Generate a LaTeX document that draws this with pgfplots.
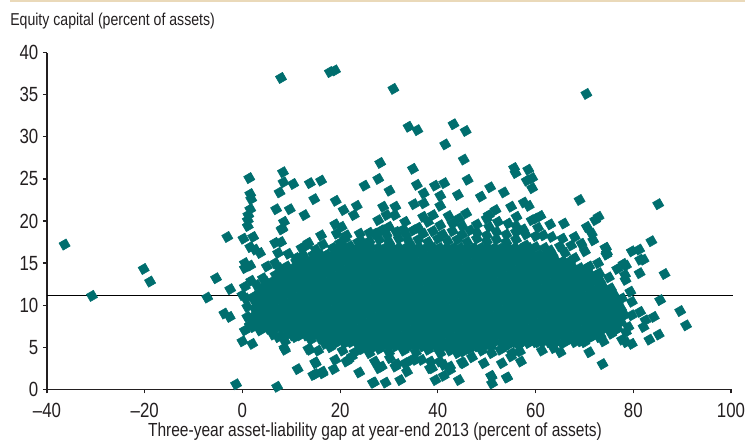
\documentclass[border=0pt]{standalone}
\usepackage{pgfplots}
\pgfplotsset{compat=1.18}
\usepackage{fontspec}
\setmainfont[FakeStretch=0.82]{Liberation Sans}
\newlength\px \setlength\px{0.75pt}
\definecolor{teal1}{HTML}{006E6E}
\definecolor{ink}{HTML}{231F20}
\definecolor{rule1}{HTML}{EAD9B9}
\begin{document}
\begin{tikzpicture}
\useasboundingbox (-47\px,-50.7\px) rectangle +(745\px,440\px);
\fill[rule1] (-37\px,387.3\px) rectangle (698\px,389.3\px);
\node[anchor=base west,inner sep=0pt,text=ink,font=\fontsize{12.9pt}{14pt}\selectfont] at (-37\px,364\px) {Equity capital (percent of assets)};
\begin{axis}[
  at={(0,0)},anchor=south west,scale only axis,
  width=684\px,height=336.6\px,
  xmin=-40,xmax=100,ymin=0,ymax=40,
  axis x line*=bottom,axis y line*=left,
  axis line style={-,line width=1.1pt,ink},
  tick style={line width=0.9pt,ink},
  tick align=outside,
  major tick length=4\px,
  xtick={-40,-20,0,20,40,60,80,100},
  xticklabels={--40,--20,0,20,40,60,80,100},
  ytick={0,5,10,15,20,25,30,35,40},
  yticklabels={0,5,10,15,20,25,30,35,40},
  tick label style={font=\fontsize{15.4pt}{17pt}\selectfont,text=ink},
  xticklabel style={yshift=-5\px},
  yticklabel style={xshift=0\px},
  xlabel={Three-year asset-liability gap at year-end 2013 (percent of assets)},
  xlabel style={at={(axis description cs:0.4795,0)},anchor=base,yshift=-46.7\px,inner sep=0pt,font=\fontsize{14.2pt}{16pt}\selectfont,text=ink},
  clip=false,
]
\addplot[only marks,mark=square*,mark size=4.1\px,mark options={teal1,fill=teal1,rotate=30,draw=none}] coordinates {
% outlying and ring points
(7.9,37.0)(17.9,37.7)(18.95,37.9)(30.9,35.7)(70.4,35.1)(34.0,31.2)(35.8,30.8)(43.2,31.5)(45.7,30.7)(41.5,29.1)
(28.2,26.9)(45.3,27.3)(34.9,26.2)(27.8,25.0)(55.6,26.3)(55.9,25.7)(58.5,26.1)(59.3,25.1)(58.2,24.8)(59.3,23.9)
(1.4,25.1)(8.3,25.8)(8.4,24.6)(10.4,24.4)(13.8,24.5)(16.1,24.8)(25.0,24.2)(7.6,23.4)(1.6,23.2)(1.8,22.6)
(14.7,22.6)(19.1,22.4)(20.7,21.3)(23.4,21.8)(6.9,21.4)(9.7,21.4)(1.6,21.4)(12.7,20.7)(1.2,20.7)(22.8,20.7)
(35.7,24.3)(39.4,24.2)(41.3,24.5)(46.1,24.9)(30.1,23.6)(37.1,23.3)(40.5,23.0)(44.1,23.1)(50.7,24.0)(53.5,23.4)
(48.8,22.9)(69.0,22.5)(85.1,22.0)(57.6,22.2)(58.6,21.8)(55.0,21.7)(28.8,21.7)(31.3,21.7)(35.1,22.0)(37.1,22.1)
(40.5,21.8)(42.2,20.6)(45.8,20.9)(44.3,20.3)(51.8,21.3)(50.4,20.7)(56.1,20.5)(61,20.6)(60,20.3)(72.9,20.5)(72.2,20.1)
(1.1,20.1)(1.1,19.4)(0.2,17.9)(2.2,18.1)(1.6,16.9)(8.5,19.9)(8.2,19.1)(8,19)(19,19.6)(20.3,19.3)(16.1,18.3)(19.3,18.5)
(21,17.9)(6.7,17.4)(7.9,17.5)(9.4,16.1)(24,18.5)(24.4,17.5)(27.8,20.1)(27.1,18.5)(28.5,18.9)(13.2,17.1)(2.6,16.6)(7.3,16.2)(0.5,15)
(54.4,19.7)(59.2,20.1)(46.6,18.9)(52.3,19.9)(50,20.3)(38,19.9)(39,20.7)(33.3,19.9)(31.2,20.7)(29.5,20.7)
(65.8,19.7)(70.5,19.3)(71.5,18.5)(71.8,17.7)(69.4,17.3)(67.3,17.1)(65,17)(61.6,18.3)(63.3,18.1)(61.9,16.8)
(83.7,17.6)(74.4,16.8)(74.5,16)(79.7,16.4)(81.2,16.6)(81.4,15.4)(78,14.9)(72.8,15)(70.1,16.4)(82.1,15.4)
(86.4,13.7)(81.3,13.8)(76.7,14.3)(78.5,14.7)(85.5,10.6)(89.6,9.3)(90.8,7.6)(85.2,6.5)(83.3,5.9)(79.7,5.4)(78.5,5.6)
(73.9,5.7)(71,4.4)(73.7,3.0)(69.2,5.7)(65.1,4.4)(63.7,4.9)(65.4,5.5)(61.3,4.6)(57,3.3)(54.2,1.4)(51.1,0.7)(50.9,1.6)
(44.3,1.1)(39.5,1.1)(41.2,1.6)(29.3,0.8)(26.9,0.8)(32.3,1.1)(33.7,2.1)(49.4,3.1)(47,3.8)(44.9,3.2)(42.5,2.7)(38.8,2.5)
(53.1,3.1)(35.4,3.5)(31.3,2.7)(27.9,2.5)(55.2,4.3)(52.8,4.7)(38.5,3.3)(33.3,3.1)(41.2,2.9)(82.1,7.4)(84.2,8.6)(82.5,8.2)
(81.4,9.2)(79.7,8.8)(79.7,10.4)(79.4,11.6)(77.7,10.8)(79,7.4)(77.7,5.9)(78.5,6.8)(74.3,7.4)(78.4,13)(78.3,13.6)(74.3,16.8)(74.6,16.2)
(-36.4,17.2)(-30.8,11.1)(-20.2,14.3)(-18.9,12.8)(-7.2,10.9)(-5.4,13.2)(-3.1,18.1)(-2.5,11.9)(-3.7,9.0)(-2.6,8.6)
(0.5,14.4)(1.6,14.7)(0.5,12.2)(0.7,10.8)(0,11.2)(1,8.6)(0.5,7.0)(0,5.7)(2,5.4)(-1.3,0.6)(7.1,0.3)(11.3,2.4)(14.9,1.8)(16.4,1.9)
(18.7,2.4)(23.9,2)(26.7,0.8)(15,3.1)(8.6,4.9)(8.7,5.7)(6.3,6.5)(10.8,6.2)(13.5,4.8)(15.5,4.6)(19,3.5)(21.7,3.5)(16.9,5.4)
(3.6,7)(5.5,7.2)(3.6,16.2)(13.5,17.4)(12.1,16.8)(21.3,18.3)(23.7,17.5)(2.9,12.4)(5,14.6)(6.7,15)(9.1,14.6)(3.6,11.5)
(2,8.2)(2.2,7.4)(1.5,7.6)(1,9.8)(2.5,9.6)(2.3,11)(1.8,12.9)(4.2,13.2)
(8.7,4.7)(7.3,6.2)(13.8,4.7)(14.9,3.2)(16.4,2.1)(14.5,1.7)(21.3,3.3)(22.4,3.9)(27.1,3.3)(28.5,2.7)(30.2,3.7)(31.6,3)
(34.6,3.5)(38.4,2.5)(42.5,2.3)(40.4,3.3)(45.2,3.1)(51,1.5)(54.1,1.4)(55,3.9)(56.8,4.5)(54.4,5.3)(45.2,4.5)(36.7,3.5)
% lower fringe
(18,5)(20.5,4.6)(23,4.4)(24.5,4.8)(26,4.3)(28,4.8)(30,4.4)(33,4.6)(35.5,4.4)(38,4.7)(40.5,4.3)(42.5,4.6)(44,4.3)(46.5,4.8)(49,4.6)(51,4.3)(53.5,5)(56.5,5.3)(58.5,5.5)(60.5,5.6)(63,5.7)(67,6)(71,6.1)(73,6.2)(75.5,6.6)
(12,6.6)(14,5.9)(16,6)(18.5,5.6)(21,5.5)(23.5,5.5)(26,5.4)
(25.7,5.1)(27.1,5.1)(28.5,5.1)(29.9,5.1)(31.3,5.1)(32.7,5.1)(34.1,5.1)(35.5,5.1)(36.9,5.1)(38.3,5.1)(39.7,5.1)(41.1,5.1)(42.5,5.1)(43.9,5.1)(45.3,5.1)(46.7,5.1)(48.1,5.1)(49.5,5.1)(50.9,5.1)
% upper fringe
(11,15.6)(12.5,15.9)(15,16.6)(16.5,17.2)(18.5,16.8)(20,17.4)(22,17)(24.5,16.8)
(26,17.6)(28,17.8)(30,17.5)(32,17.9)(34,17.6)(36,17.8)(38,17.5)(40,17.9)(42,17.6)(44,17.8)(46,17.5)(48,17.9)(50,17.6)(52,17.8)(54,17.5)(56,17.8)(58,17.1)(60,16.9)(63,16.5)(66,16.2)(68,15.6)(71,14.6)(73,13.8)(75,13.3)
(26,18.6)(29.5,18.4)(31.5,18.7)(33.5,18.4)(35,18.9)(37,18.5)(39,18.8)(41,18.4)(43,18.8)(45,18.4)(48,18.6)(50,18.3)(52,18.7)(54,18.4)(56,18.7)(58,18.4)(60,18.2)(65.5,17.9)(68,18.1)
(30,19.3)(33,19)(36,19.2)(37,20.5)(40.5,19.5)(43,19.7)(45,19.4)(48,19.6)(50.5,19.3)(56,19.4)(57.5,19)(60.5,19.2)(63,19.6)
% extensions of the solid mass
(7.5,14.4)(8.9,14.4)(10.3,14.4)(11.7,14.4)(66.3,14.4)(67.7,14.4)(69.1,14.4)(70.5,14.4)
(11,15.2)(12.4,15.2)(13.8,15.2)(15.2,15.2)(61.4,15.2)(62.8,15.2)(64.2,15.2)(65.6,15.2)(67,15.2)
(14.5,16)(15.9,16)(17.3,16)(18.7,16)(20.1,16)(57.9,16)(59.3,16)(60.7,16)(62.1,16)(63.5,16)
(19.4,16.8)(20.8,16.8)(22.2,16.8)(23.6,16.8)(25,16.8)(26.4,16.8)(54.4,16.8)(55.8,16.8)(57.2,16.8)(58.6,16.8)
(6.8,13.6)(8.2,13.6)(69.8,13.6)(71.2,13.6)(72.6,13.6)(4.7,12.8)(71.9,12.8)(73.3,12.8)(4,12)(74,12)(75.4,12)
(3.3,11.2)(76.1,11.2)(2.6,10.4)(76.8,10.4)(3.3,9.6)(77.5,9.6)(2.6,8.8)(78.2,8.8)(3.3,8)(76.1,8)(77.5,8)
(4,7.2)(5.4,7.2)(6.8,7.2)(8.2,7.2)(9.6,7.2)(74,7.2)(75.4,7.2)(76.8,7.2)
(8.9,6.4)(10.3,6.4)(11.7,6.4)(13.1,6.4)(14.5,6.4)(15.9,6.4)(17.3,6.4)(18.7,6.4)(63.5,6.4)(64.9,6.4)(66.3,6.4)(67.7,6.4)(69.1,6.4)(70.5,6.4)(71.9,6.4)(73.3,6.4)
(18,5.6)(19.4,5.6)(20.8,5.6)(22.2,5.6)(23.6,5.6)(25,5.6)(26.4,5.6)(27.8,5.6)(51.6,5.6)(53,5.6)(54.4,5.6)(55.8,5.6)(57.2,5.6)(58.6,5.6)(60,5.6)(61.4,5.6)(62.8,5.6)(64.2,5.6)(66,5.6)(68,5.6)(70,5.6)
% core rows
(29.2,5.6)(30.6,5.6)(32,5.6)(33.4,5.6)(34.8,5.6)(36.2,5.6)(37.6,5.6)(39,5.6)(40.4,5.6)(41.8,5.6)(43.2,5.6)(44.6,5.6)(46,5.6)(47.4,5.6)(48.8,5.6)(50.2,5.6)
(20.1,6.4)(21.5,6.4)(22.9,6.4)(24.3,6.4)(25.7,6.4)(27.1,6.4)(28.5,6.4)(29.9,6.4)(31.3,6.4)(32.7,6.4)(34.1,6.4)(35.5,6.4)(36.9,6.4)(38.3,6.4)(39.7,6.4)(41.1,6.4)(42.5,6.4)(43.9,6.4)(45.3,6.4)(46.7,6.4)(48.1,6.4)(49.5,6.4)(50.9,6.4)(52.3,6.4)(53.7,6.4)(55.1,6.4)(56.5,6.4)(57.9,6.4)(59.3,6.4)(60.7,6.4)(62.1,6.4)
(11,7.2)(12.4,7.2)(13.8,7.2)(15.2,7.2)(16.6,7.2)(18,7.2)(19.4,7.2)(20.8,7.2)(22.2,7.2)(23.6,7.2)(25,7.2)(26.4,7.2)(27.8,7.2)(29.2,7.2)(30.6,7.2)(32,7.2)(33.4,7.2)(34.8,7.2)(36.2,7.2)(37.6,7.2)(39,7.2)(40.4,7.2)(41.8,7.2)(43.2,7.2)(44.6,7.2)(46,7.2)(47.4,7.2)(48.8,7.2)(50.2,7.2)(51.6,7.2)(53,7.2)(54.4,7.2)(55.8,7.2)(57.2,7.2)(58.6,7.2)(60,7.2)(61.4,7.2)(62.8,7.2)(64.2,7.2)(65.6,7.2)(67,7.2)(68.4,7.2)(69.8,7.2)(71.2,7.2)(72.6,7.2)
(4.7,8)(6.1,8)(7.5,8)(8.9,8)(10.3,8)(11.7,8)(13.1,8)(14.5,8)(15.9,8)(17.3,8)(18.7,8)(20.1,8)(21.5,8)(22.9,8)(24.3,8)(25.7,8)(27.1,8)(28.5,8)(29.9,8)(31.3,8)(32.7,8)(34.1,8)(35.5,8)(36.9,8)(38.3,8)(39.7,8)(41.1,8)(42.5,8)(43.9,8)(45.3,8)(46.7,8)(48.1,8)(49.5,8)(50.9,8)(52.3,8)(53.7,8)(55.1,8)(56.5,8)(57.9,8)(59.3,8)(60.7,8)(62.1,8)(63.5,8)(64.9,8)(66.3,8)(67.7,8)(69.1,8)(70.5,8)(71.9,8)(73.3,8)(74.7,8)
(4,8.8)(5.4,8.8)(6.8,8.8)(8.2,8.8)(9.6,8.8)(11,8.8)(12.4,8.8)(13.8,8.8)(15.2,8.8)(16.6,8.8)(18,8.8)(19.4,8.8)(20.8,8.8)(22.2,8.8)(23.6,8.8)(25,8.8)(26.4,8.8)(27.8,8.8)(29.2,8.8)(30.6,8.8)(32,8.8)(33.4,8.8)(34.8,8.8)(36.2,8.8)(37.6,8.8)(39,8.8)(40.4,8.8)(41.8,8.8)(43.2,8.8)(44.6,8.8)(46,8.8)(47.4,8.8)(48.8,8.8)(50.2,8.8)(51.6,8.8)(53,8.8)(54.4,8.8)(55.8,8.8)(57.2,8.8)(58.6,8.8)(60,8.8)(61.4,8.8)(62.8,8.8)(64.2,8.8)(65.6,8.8)(67,8.8)(68.4,8.8)(69.8,8.8)(71.2,8.8)(72.6,8.8)(74,8.8)(75.4,8.8)(76.8,8.8)
(4.7,9.6)(6.1,9.6)(7.5,9.6)(8.9,9.6)(10.3,9.6)(11.7,9.6)(13.1,9.6)(14.5,9.6)(15.9,9.6)(17.3,9.6)(18.7,9.6)(20.1,9.6)(21.5,9.6)(22.9,9.6)(24.3,9.6)(25.7,9.6)(27.1,9.6)(28.5,9.6)(29.9,9.6)(31.3,9.6)(32.7,9.6)(34.1,9.6)(35.5,9.6)(36.9,9.6)(38.3,9.6)(39.7,9.6)(41.1,9.6)(42.5,9.6)(43.9,9.6)(45.3,9.6)(46.7,9.6)(48.1,9.6)(49.5,9.6)(50.9,9.6)(52.3,9.6)(53.7,9.6)(55.1,9.6)(56.5,9.6)(57.9,9.6)(59.3,9.6)(60.7,9.6)(62.1,9.6)(63.5,9.6)(64.9,9.6)(66.3,9.6)(67.7,9.6)(69.1,9.6)(70.5,9.6)(71.9,9.6)(73.3,9.6)(74.7,9.6)(76.1,9.6)
(4,10.4)(5.4,10.4)(6.8,10.4)(8.2,10.4)(9.6,10.4)(11,10.4)(12.4,10.4)(13.8,10.4)(15.2,10.4)(16.6,10.4)(18,10.4)(19.4,10.4)(20.8,10.4)(22.2,10.4)(23.6,10.4)(25,10.4)(26.4,10.4)(27.8,10.4)(29.2,10.4)(30.6,10.4)(32,10.4)(33.4,10.4)(34.8,10.4)(36.2,10.4)(37.6,10.4)(39,10.4)(40.4,10.4)(41.8,10.4)(43.2,10.4)(44.6,10.4)(46,10.4)(47.4,10.4)(48.8,10.4)(50.2,10.4)(51.6,10.4)(53,10.4)(54.4,10.4)(55.8,10.4)(57.2,10.4)(58.6,10.4)(60,10.4)(61.4,10.4)(62.8,10.4)(64.2,10.4)(65.6,10.4)(67,10.4)(68.4,10.4)(69.8,10.4)(71.2,10.4)(72.6,10.4)(74,10.4)(75.4,10.4)
(4.7,11.2)(6.1,11.2)(7.5,11.2)(8.9,11.2)(10.3,11.2)(11.7,11.2)(13.1,11.2)(14.5,11.2)(15.9,11.2)(17.3,11.2)(18.7,11.2)(20.1,11.2)(21.5,11.2)(22.9,11.2)(24.3,11.2)(25.7,11.2)(27.1,11.2)(28.5,11.2)(29.9,11.2)(31.3,11.2)(32.7,11.2)(34.1,11.2)(35.5,11.2)(36.9,11.2)(38.3,11.2)(39.7,11.2)(41.1,11.2)(42.5,11.2)(43.9,11.2)(45.3,11.2)(46.7,11.2)(48.1,11.2)(49.5,11.2)(50.9,11.2)(52.3,11.2)(53.7,11.2)(55.1,11.2)(56.5,11.2)(57.9,11.2)(59.3,11.2)(60.7,11.2)(62.1,11.2)(63.5,11.2)(64.9,11.2)(66.3,11.2)(67.7,11.2)(69.1,11.2)(70.5,11.2)(71.9,11.2)(73.3,11.2)(74.7,11.2)
(5.4,12)(6.8,12)(8.2,12)(9.6,12)(11,12)(12.4,12)(13.8,12)(15.2,12)(16.6,12)(18,12)(19.4,12)(20.8,12)(22.2,12)(23.6,12)(25,12)(26.4,12)(27.8,12)(29.2,12)(30.6,12)(32,12)(33.4,12)(34.8,12)(36.2,12)(37.6,12)(39,12)(40.4,12)(41.8,12)(43.2,12)(44.6,12)(46,12)(47.4,12)(48.8,12)(50.2,12)(51.6,12)(53,12)(54.4,12)(55.8,12)(57.2,12)(58.6,12)(60,12)(61.4,12)(62.8,12)(64.2,12)(65.6,12)(67,12)(68.4,12)(69.8,12)(71.2,12)(72.6,12)
(6.1,12.8)(7.5,12.8)(8.9,12.8)(10.3,12.8)(11.7,12.8)(13.1,12.8)(14.5,12.8)(15.9,12.8)(17.3,12.8)(18.7,12.8)(20.1,12.8)(21.5,12.8)(22.9,12.8)(24.3,12.8)(25.7,12.8)(27.1,12.8)(28.5,12.8)(29.9,12.8)(31.3,12.8)(32.7,12.8)(34.1,12.8)(35.5,12.8)(36.9,12.8)(38.3,12.8)(39.7,12.8)(41.1,12.8)(42.5,12.8)(43.9,12.8)(45.3,12.8)(46.7,12.8)(48.1,12.8)(49.5,12.8)(50.9,12.8)(52.3,12.8)(53.7,12.8)(55.1,12.8)(56.5,12.8)(57.9,12.8)(59.3,12.8)(60.7,12.8)(62.1,12.8)(63.5,12.8)(64.9,12.8)(66.3,12.8)(67.7,12.8)(69.1,12.8)(70.5,12.8)
(9.6,13.6)(11,13.6)(12.4,13.6)(13.8,13.6)(15.2,13.6)(16.6,13.6)(18,13.6)(19.4,13.6)(20.8,13.6)(22.2,13.6)(23.6,13.6)(25,13.6)(26.4,13.6)(27.8,13.6)(29.2,13.6)(30.6,13.6)(32,13.6)(33.4,13.6)(34.8,13.6)(36.2,13.6)(37.6,13.6)(39,13.6)(40.4,13.6)(41.8,13.6)(43.2,13.6)(44.6,13.6)(46,13.6)(47.4,13.6)(48.8,13.6)(50.2,13.6)(51.6,13.6)(53,13.6)(54.4,13.6)(55.8,13.6)(57.2,13.6)(58.6,13.6)(60,13.6)(61.4,13.6)(62.8,13.6)(64.2,13.6)(65.6,13.6)(67,13.6)(68.4,13.6)
(13.1,14.4)(14.5,14.4)(15.9,14.4)(17.3,14.4)(18.7,14.4)(20.1,14.4)(21.5,14.4)(22.9,14.4)(24.3,14.4)(25.7,14.4)(27.1,14.4)(28.5,14.4)(29.9,14.4)(31.3,14.4)(32.7,14.4)(34.1,14.4)(35.5,14.4)(36.9,14.4)(38.3,14.4)(39.7,14.4)(41.1,14.4)(42.5,14.4)(43.9,14.4)(45.3,14.4)(46.7,14.4)(48.1,14.4)(49.5,14.4)(50.9,14.4)(52.3,14.4)(53.7,14.4)(55.1,14.4)(56.5,14.4)(57.9,14.4)(59.3,14.4)(60.7,14.4)(62.1,14.4)(63.5,14.4)(64.9,14.4)
(16.6,15.2)(18,15.2)(19.4,15.2)(20.8,15.2)(22.2,15.2)(23.6,15.2)(25,15.2)(26.4,15.2)(27.8,15.2)(29.2,15.2)(30.6,15.2)(32,15.2)(33.4,15.2)(34.8,15.2)(36.2,15.2)(37.6,15.2)(39,15.2)(40.4,15.2)(41.8,15.2)(43.2,15.2)(44.6,15.2)(46,15.2)(47.4,15.2)(48.8,15.2)(50.2,15.2)(51.6,15.2)(53,15.2)(54.4,15.2)(55.8,15.2)(57.2,15.2)(58.6,15.2)(60,15.2)
(21.5,16)(22.9,16)(24.3,16)(25.7,16)(27.1,16)(28.5,16)(29.9,16)(31.3,16)(32.7,16)(34.1,16)(35.5,16)(36.9,16)(38.3,16)(39.7,16)(41.1,16)(42.5,16)(43.9,16)(45.3,16)(46.7,16)(48.1,16)(49.5,16)(50.9,16)(52.3,16)(53.7,16)(55.1,16)(56.5,16)
(27.8,16.8)(29.2,16.8)(30.6,16.8)(32,16.8)(33.4,16.8)(34.8,16.8)(36.2,16.8)(37.6,16.8)(39,16.8)(40.4,16.8)(41.8,16.8)(43.2,16.8)(44.6,16.8)(46,16.8)(47.4,16.8)(48.8,16.8)(50.2,16.8)(51.6,16.8)(53,16.8)
};
\addplot[black,line width=0.9pt,forget plot] coordinates {(-40,11.1)(100.4,11.1)};
\end{axis}
\end{tikzpicture}
\end{document}
